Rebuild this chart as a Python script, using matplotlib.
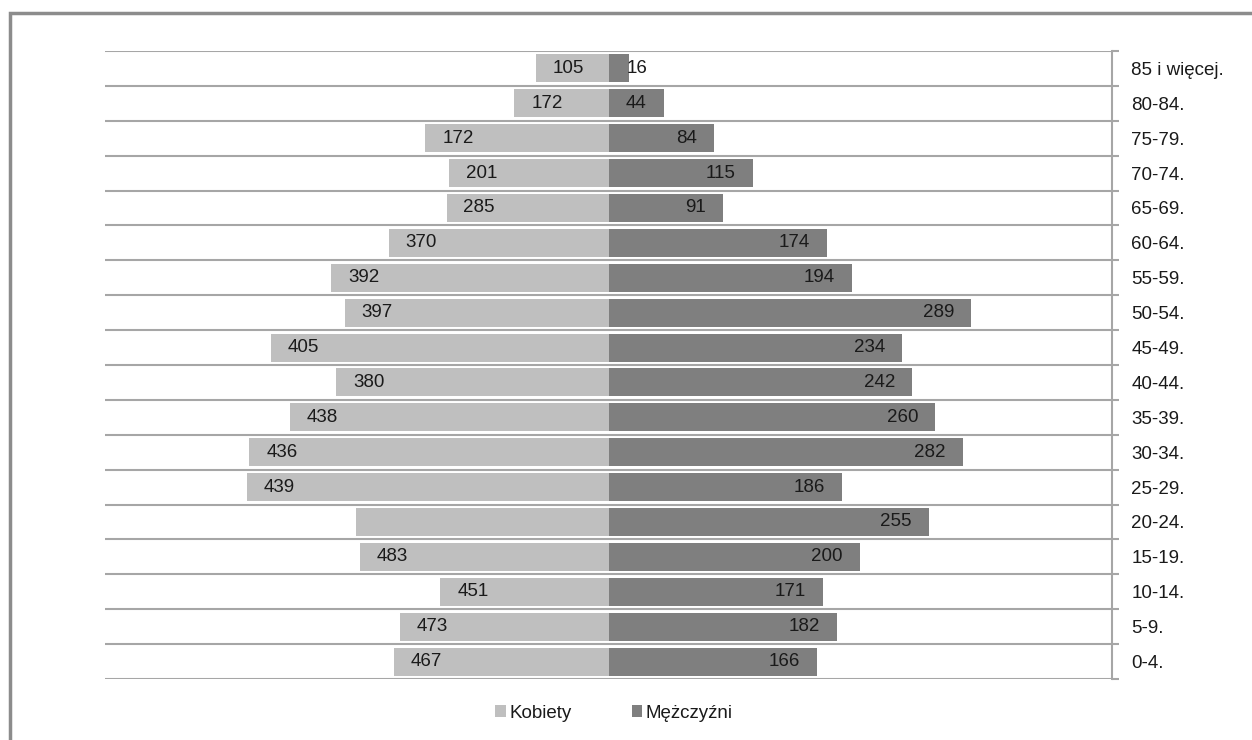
import numpy as np
import matplotlib
matplotlib.use("Agg")
import matplotlib.pyplot as plt
from matplotlib.patches import Rectangle

plt.rcParams['font.family'] = ['Liberation Sans', 'DejaVu Sans']

# age groups, bottom to top
groups = ['0-4.', '5-9.', '10-14.', '15-19.', '20-24.', '25-29.', '30-34.', '35-39.',
          '40-44.', '45-49.', '50-54.', '55-59.', '60-64.', '65-69.', '70-74.', '75-79.',
          '80-84.', '85 i więcej.']

# bar lengths as drawn
kobiety = [171, 166, 134, 198, 201, 288, 286, 254, 217, 269, 210, 221, 175, 129, 127, 146, 75, 58]
mezczyzni = [166, 182, 171, 200, 255, 186, 282, 260, 242, 234, 289, 194, 174, 91, 115, 84, 44, 16]

# data labels as printed
kobiety_lab = ['467', '473', '451', '483', '', '439', '436', '438', '380', '405', '397', '392',
               '370', '285', '201', '172', '172', '105']
mezczyzni_lab = ['166', '182', '171', '200', '255', '186', '282', '260', '242', '234', '289', '194',
                 '174', '91', '115', '84', '44', '16']

c_k = '#bfbfbf'
c_m = '#7f7f7f'
grid_c = '#a6a6a6'
txt_c = '#1a1a1a'
fs = 13.5

fig = plt.figure(figsize=(12.52, 7.40), dpi=100)
ax = fig.add_axes([105/1252, 61/740, 1007/1252, 628/740])

y = np.arange(len(groups))
ax.barh(y, -np.array(kobiety), height=0.8, color=c_k, label='Kobiety')
ax.barh(y, mezczyzni, height=0.8, color=c_m, label='Mężczyźni')

ax.set_xlim(-401, 401)
ax.set_ylim(-0.5, len(groups) - 0.5)

for b in np.arange(len(groups) + 1) - 0.5:
    ax.axhline(b, color=grid_c, lw=1.5, zorder=0)

pad = 13.5
for i in range(len(groups)):
    if kobiety_lab[i]:
        ax.text(-kobiety[i] + pad, y[i], kobiety_lab[i], ha='left', va='center',
                fontsize=fs, color=txt_c)
    if mezczyzni[i] < 30:
        ax.text(mezczyzni[i] - 1.5, y[i], mezczyzni_lab[i], ha='left', va='center',
                fontsize=fs, color=txt_c)
    else:
        ax.text(mezczyzni[i] - pad, y[i], mezczyzni_lab[i], ha='right', va='center',
                fontsize=fs, color=txt_c)

for s in ['top', 'left', 'bottom']:
    ax.spines[s].set_visible(False)
ax.spines['right'].set_color(grid_c)
ax.spines['right'].set_linewidth(1.5)
ax.set_xticks([])
ax.yaxis.tick_right()
ax.set_yticks(y)
ax.set_yticklabels(groups, fontsize=fs, color=txt_c)
ax.tick_params(axis='y', which='major', length=0, pad=14)
ax.set_yticks(np.arange(len(groups) + 1) - 0.5, minor=True)
ax.tick_params(axis='y', which='minor', length=5, width=1.5, color=grid_c, direction='out')
for t in ax.get_yticklabels():
    t.set_horizontalalignment('left')

leg = fig.legend(loc='center', bbox_to_anchor=(614/1252, 1 - 713/740), ncol=2,
                 frameon=False, fontsize=fs, handlelength=0.55, handleheight=0.55,
                 handletextpad=0.2, columnspacing=3.2)
for t in leg.get_texts():
    t.set_color(txt_c)

fig.patches.append(Rectangle((10/1252, -0.1), 1.2, 1 - 13/740 + 0.1, transform=fig.transFigure,
                             fill=False, edgecolor='#8c8c8c', lw=2.5))

fig.savefig('out.png', dpi=100)
